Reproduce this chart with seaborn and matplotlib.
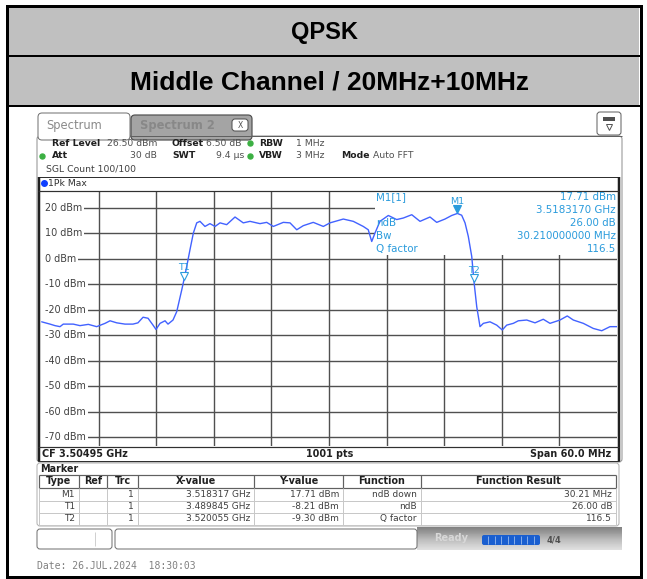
import pandas as pd
import seaborn as sns
import matplotlib.pyplot as plt
from matplotlib.patches import Rectangle, FancyBboxPatch
from matplotlib.transforms import ScaledTranslation
import numpy as np

# trace (MHz, dBm)
freq_mhz = [3475.02, 3475.89, 3476.41, 3476.93, 3477.27, 3478.31, 3479.01, 3479.88, 3480.75,
            3481.62, 3482.14, 3482.84, 3483.70, 3484.53, 3485.05, 3485.58, 3486.10, 3486.62,
            3486.93, 3487.35, 3487.87, 3488.18, 3488.70, 3489.09, 3489.61, 3489.85, 3490.13,
            3490.47, 3490.82, 3491.17, 3491.51, 3492.03, 3492.55, 3493.08, 3493.60, 3494.29,
            3495.16, 3496.02, 3496.72, 3497.76, 3498.46, 3499.15, 3500.19, 3500.89, 3501.59,
            3502.27, 3503.31, 3504.36, 3505.05, 3506.44, 3507.48, 3508.52, 3509.04, 3509.40,
            3509.74, 3510.26, 3511.13, 3512.00, 3512.69, 3513.57, 3514.43, 3515.47, 3516.17,
            3517.03, 3517.73, 3518.32, 3518.77, 3519.12, 3519.46, 3519.82, 3520.06, 3520.34,
            3520.68, 3521.03, 3521.72, 3522.42, 3523.00, 3523.46, 3524.15, 3524.67, 3525.55,
            3526.41, 3527.27, 3527.97, 3529.01, 3529.77, 3530.40, 3531.44, 3532.48, 3533.36,
            3534.22, 3534.95]
level_dbm = [-24.8, -25.7, -26.3, -26.7, -25.7, -25.7, -26.3, -25.8, -26.7, -25.4, -24.4, -25.2,
             -25.7, -25.7, -25.2, -23.0, -23.4, -26.1, -27.8, -25.4, -24.4, -25.7, -24.1, -20.8,
             -12.3, -8.2, -3.1, 3.5, 10.0, 14.0, 14.6, 12.6, 13.7, 12.6, 14.0, 13.3, 16.3, 14.0,
             14.6, 13.7, 14.2, 12.6, 14.2, 14.0, 11.3, 12.9, 14.2, 12.6, 14.0, 15.5, 14.6, 12.6,
             11.3, 6.7, 10.0, 14.6, 16.9, 15.3, 15.9, 17.2, 14.6, 16.3, 14.2, 15.5, 16.9, 17.7,
             17.0, 14.0, 8.7, 0.8, -9.3, -18.9, -26.7, -25.4, -24.8, -26.1, -28.0, -26.1, -25.4,
             -24.4, -24.1, -25.2, -23.8, -25.4, -24.1, -22.5, -24.1, -25.4, -27.4, -28.3, -26.7,
             -26.7]

marker_names = ["M1", "T1", "T2"]
marker_freq_ghz = [3.518317, 3.489845, 3.520055]
marker_level = [17.71, -8.21, -9.30]
marker_func = ["ndB down", "ndB", "Q factor"]
marker_result = ["30.21 MHz", "26.00 dB", "116.5"]

y_ticks = [20, 10, 0, -10, -20, -30, -40, -50, -60, -70]
center_ghz = 3.50495
span_mhz = 60.0
ref_level = 26.5
n_points = 1001

sns.set_theme(style="white")
plt.rcParams["font.family"] = ["DejaVu Sans"]

BLUE = "#2a9bdc"
TRACE = "#4262ff"
fig = plt.figure(figsize=(6.47, 5.79), dpi=100)

# background axes in screen pixels (y down)
bg = fig.add_axes([0, 0, 1, 1])
bg.set_xlim(0, 647)
bg.set_ylim(579, 0)
bg.axis("off")
P = bg.transData


def box(x0, y0, x1, y1, fc="none", ec="none", lw=1.0, z=1, r=0, ax=bg):
    if r:
        p = FancyBboxPatch((x0, y0), x1 - x0, y1 - y0, boxstyle=f"round,pad=0,rounding_size={r}",
                           fc=fc, ec=ec, lw=lw * 0.72, transform=P, zorder=z)
    else:
        p = Rectangle((x0, y0), x1 - x0, y1 - y0, fc=fc, ec=ec, lw=lw * 0.72, transform=P, zorder=z)
    ax.add_patch(p)
    return p


def line(xs, ys, c="#303030", lw=1.0, z=2, ax=bg):
    ax.plot(xs, ys, color=c, lw=lw * 0.72, transform=P, zorder=z, solid_capstyle="butt", clip_on=False)


def txt(x, y, s, size=6.7, c="#303030", ha="left", w="normal", ax=bg, **kw):
    ax.text(x, y, s, fontsize=size, color=c, ha=ha, va="center", fontweight=w,
            transform=P, zorder=6, clip_on=False, **kw)


# page header
box(8, 7, 639, 55, fc="#c0c0c0", z=0)
box(8, 57, 639, 105, fc="#c0c0c0", z=0)
line([6, 641], [56, 56], c="black", lw=2)
line([6, 641], [106, 106], c="black", lw=2)
box(6.5, 5.5, 640.5, 576.5, ec="black", lw=3, z=3)
txt(324, 32, "QPSK", size=17, c="black", ha="center", w="bold", family="Liberation Sans")
txt(329, 82, "Middle Channel / 20MHz+10MHz", size=19, c="black", ha="center", w="bold",
    family="Liberation Sans")

# tabs
box(38, 113, 130, 140, fc="white", ec="#707070", r=4, z=1)
txt(46, 125, "Spectrum", size=8.3, c="#8a8a8a")
box(131, 115, 252, 140, fc="#a4a4a4", ec="#505050", lw=1.2, r=4, z=1)
txt(140, 125, "Spectrum 2", size=8.3, c="#888888", w="bold")
box(232, 119, 248, 131, fc="white", ec="#505050", r=3, z=2)
txt(240, 125, "X", size=5.5, c="#505050", ha="center")
box(597, 112, 621, 135, fc="white", ec="#606060", r=3, z=2)
box(603, 117, 615, 121, fc="#505050", z=3)
bg.plot([609], [127], marker="v", ms=5, mfc="white", mec="#505050", mew=0.7, transform=P, zorder=4)
box(37, 136, 622, 462, fc="white", ec="#909090", r=3, z=0.5)
line([130, 622], [136, 136], c="#606060", lw=1)

# setting lines
txt(52, 143, "Ref Level", w="bold", c="#202020")
txt(107, 143, f"{ref_level:.2f} dBm", c="#505050")
txt(172, 143, "Offset", w="bold", c="#202020")
txt(206, 143, "6.50 dB", c="#505050")
txt(259, 143, "RBW", w="bold", c="#202020")
txt(296, 143, "1 MHz", c="#505050")
txt(52, 156, "Att", w="bold", c="#202020")
txt(157, 156, "30 dB", c="#505050", ha="right")
txt(172, 156, "SWT", w="bold", c="#202020")
txt(244, 156, "9.4 µs", c="#505050", ha="right")
txt(259, 156, "VBW", w="bold", c="#202020")
txt(296, 156, "3 MHz", c="#505050")
txt(341, 156, "Mode", w="bold", c="#202020")
txt(373, 156, "Auto FFT", c="#505050")
txt(46, 169, "SGL Count 100/100", c="#404040")
for gx, gy in [(250, 143), (42, 156), (250, 156)]:
    bg.plot([gx], [gy], marker="o", ms=3.6, color="#3cb043", transform=P, zorder=4)

# trace window frame
box(38, 177, 619, 461, fc="white", ec="#303030", lw=1, z=0.8)
line([38.5, 38.5], [177, 461], c="#202020", lw=2.5, z=5)
line([618.5, 618.5], [177, 461], c="#202020", lw=2.5, z=5)
bg.plot([44], [183], marker="o", ms=4, color="#1040ff", transform=P, zorder=4)
txt(48, 183, "1Pk Max", c="#303030")

# spectrum axes
ax = fig.add_axes([41 / 647, (579 - 446) / 579, 576 / 647, 255 / 579])
ax.set_zorder(2)
f0 = center_ghz * 1000 - span_mhz / 2
ax.set_xlim(f0, f0 + span_mhz)
ax.set_ylim(ref_level - 100, ref_level)
ax.set_xticks([])
ax.set_yticks([])
for s in ax.spines.values():
    s.set_visible(False)
for v in y_ticks:
    ax.axhline(v, color="#505050", lw=1.0, zorder=1)
    ax.text(f0 + 0.45, v, f"{v} dBm", fontsize=6.9, color="#404040", va="center", zorder=2,
            bbox=dict(fc="white", ec="none", pad=1.2))
for k in range(1, 10):
    ax.axvline(f0 + k * span_mhz / 10, color="#505050", lw=1.0, zorder=1)
# blank strip left of the level labels
box(39.5, 192, 46, 446, fc="white", z=1.5, ax=ax)
line([38, 619], [191, 191], c="#303030", lw=1.2, z=5, ax=ax)
line([38, 619], [447, 447], c="#303030", lw=1.2, z=5, ax=ax)

# marker info block
box(375, 192, 617, 255, fc="white", z=2, ax=ax)
info_rows = [("M1[1]", f"{marker_level[0]:.2f} dBm"), ("", f"{marker_freq_ghz[0]:.7f} GHz"),
             ("ndB", "26.00 dB"), ("Bw", "30.210000000 MHz"), ("Q factor", marker_result[2])]
for i, (lab, val) in enumerate(info_rows):
    y = 197 + 13 * i
    if lab:
        txt(376, y, lab, size=7.4, c=BLUE, ax=ax)
    txt(616, y, val, size=7.4, c=BLUE, ha="right", ax=ax)

df = pd.DataFrame({"freq": freq_mhz, "level": level_dbm})
sns.lineplot(data=df, x="freq", y="level", ax=ax, color=TRACE, lw=1.0, zorder=3)
ax.set_xlabel("")
ax.set_ylabel("")

lift = ax.transData + ScaledTranslation(0, 4 / 100, fig.dpi_scale_trans)
for name, fg, lv in zip(marker_names, marker_freq_ghz, marker_level):
    filled = name.startswith("M")
    ax.plot([fg * 1000], [lv], marker="v", ms=5.5, mfc=BLUE if filled else "white", mec=BLUE,
            mew=0.8, zorder=4, transform=lift)
    ax.annotate(name, xy=(fg * 1000, lv), xytext=(0, 12), textcoords="offset pixels",
                ha="center", va="center", fontsize=6.8, color=BLUE, zorder=5)

# CF line
txt(42, 454, f"CF {center_ghz:.5f} GHz", size=6.9, w="bold", c="#202020")
txt(330, 454, f"{n_points} pts", size=6.9, w="bold", c="#202020", ha="center")
txt(611, 454, f"Span {span_mhz:.1f} MHz", size=6.9, w="bold", c="#202020", ha="right")

# marker table
box(37, 463, 619, 526, fc="white", ec="#b0b0b0", r=3, z=0.5)
txt(40, 468.5, "Marker", size=6.9, w="bold", c="#202020")
cols = [39, 79, 107, 138, 254, 343, 421, 616]
line([39, 616], [475, 475], c="#606060", lw=1.2)
line([39, 616], [488, 488], c="#606060", lw=1.2)
for ry in [501, 513, 525]:
    line([39, 616], [ry, ry], c="#c8c8c8", lw=1)
for cx in cols:
    line([cx, cx], [475, 488], c="#606060", lw=1.2)
    line([cx, cx], [488, 525], c="#c8c8c8", lw=1)
headers = ["Type", "Ref", "Trc", "X-value", "Y-value", "Function", "Function Result"]
for i, h in enumerate(headers):
    txt((cols[i] + cols[i + 1]) / 2, 481.5, h, size=6.9, w="bold", c="#202020", ha="center")
for j, name in enumerate(marker_names):
    y = 494.5 + 12 * j
    vals = [name, "", "1", f"{marker_freq_ghz[j]:.6f} GHz", f"{marker_level[j]:.2f} dBm",
            marker_func[j], marker_result[j]]
    for i, v in enumerate(vals):
        txt(cols[i + 1] - 4, y, v, size=6.5, c="#404040", ha="right")

# status bar
box(37, 529, 112, 549, fc="white", ec="#707070", r=3, z=1)
line([95, 95], [532, 546], c="#d0d0d0")
box(115, 529, 417, 549, fc="white", ec="#707070", r=3, z=1)
grad = np.linspace(0, 1, 30).reshape(-1, 1)
bg.imshow(grad, cmap="Greys_r", vmin=-1.2, vmax=1.6, extent=(417, 622, 550, 527), aspect="auto", zorder=0.5)
bg.set_xlim(0, 647)
bg.set_ylim(579, 0)
txt(434, 538, "Ready", size=7, w="bold", c="#d8d8d8")
box(482, 535, 540, 545, fc="#1a5fd0", r=2, z=2)
for sx in np.arange(488, 540, 6.5):
    line([sx, sx], [536, 544], c="#9fc0f0", lw=0.8, z=3)
txt(547, 540, "4/4", size=6, w="bold", c="#505050")

txt(37, 566, "Date: 26.JUL.2024  18:30:03", size=7, c="#808080", family="DejaVu Sans Mono")

fig.savefig("out.png", dpi=100)
